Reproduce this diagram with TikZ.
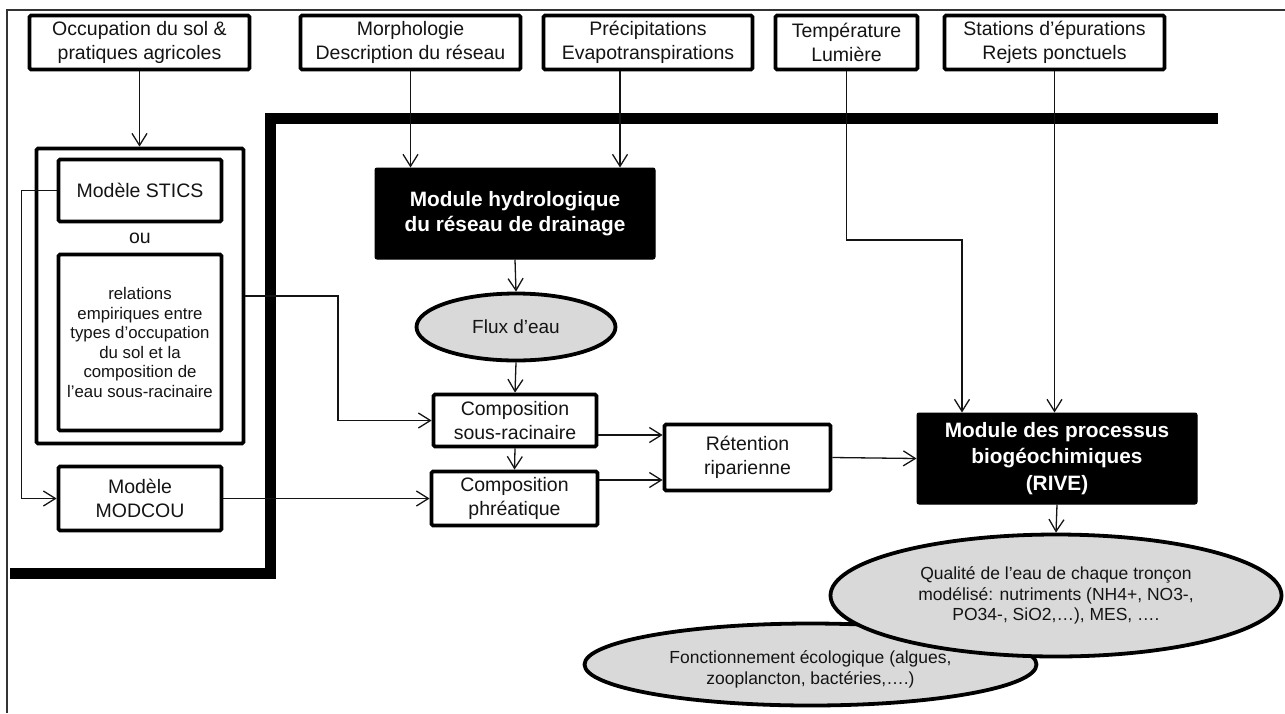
\documentclass[tikz,border=0pt]{standalone}
\usepackage{fontspec}
\setmainfont{Liberation Sans}
\usetikzlibrary{shapes.geometric,arrows.meta}
\definecolor{lgray}{RGB}{217,217,217}
\definecolor{txt}{RGB}{20,20,20}
\begin{document}
\begin{tikzpicture}[x=1pt,y=-1pt,
  box/.style={draw=black, line width=3.8pt, rounded corners=1.5pt, fill=white, inner sep=0pt, align=center, text=txt, font=\fontsize{19.5}{23.5}\selectfont},
  dark/.style={draw=black, fill=black, line width=1pt, rounded corners=2pt, inner sep=0pt, align=center, text=white, font=\fontsize{20.8}{25}\selectfont\bfseries},
  oval/.style={ellipse, draw=black, line width=3.8pt, fill=lgray, inner sep=0pt, align=center, text=txt},
  arr/.style={line width=1.3pt, draw=txt, -{Straight Barb[length=12pt,width=15pt,line width=1.3pt]}},
  plain/.style={text=txt, font=\fontsize{19.5}{23.5}\selectfont}
]
\useasboundingbox (0,0) rectangle (1285,713);
% page frame
\draw[line width=2pt, black!80] (7,713) -- (7,9.5) -- (1285,9.5);
% thick L-shaped separator
\draw[line width=11pt, line join=miter] (10,573) -- (270,573) -- (270,118.5) -- (1218,118.5);

% top inputs
\node[box, minimum width=220pt, minimum height=54pt] (occ) at (139.5,42.5) {Occupation du sol \&\\pratiques agricoles};
\node[box, minimum width=220pt, minimum height=54pt] (morph) at (410.5,42.5) {Morphologie\\Description du réseau};
\node[box, minimum width=209pt, minimum height=54pt] (precip) at (648,42.5) {Précipitations\\Evapotranspirations};
\node[box, minimum width=142pt, minimum height=54pt] (temp) at (846.5,42.5) {Température\\Lumière};
\node[box, minimum width=220pt, minimum height=54pt] (stat) at (1054.5,42.5) {Stations d’épurations\\Rejets ponctuels};

% left column
\node[box, minimum width=207pt, minimum height=295pt] (cont) at (140,296) {};
\node[box, minimum width=163pt, minimum height=62pt] (stics) at (140,190.5) {Modèle STICS};
\node[plain] (ou) at (140,238) {ou};
\node[box, minimum width=163pt, minimum height=176pt, font=\fontsize{16.8}{19.5}\selectfont] (rel) at (140,342.5) {relations\\empiriques entre\\types d’occupation\\du sol et la\\composition de\\l’eau sous-racinaire};
\node[box, minimum width=163pt, minimum height=64pt] (modcou) at (140,498.5) {Modèle\\MODCOU};

% central column
\node[dark, minimum width=280pt, minimum height=91pt] (hydro) at (515,213.5) {Module hydrologique\\du réseau de drainage};
\node[oval, minimum width=199pt, minimum height=67pt, font=\fontsize{19}{23}\selectfont] (flux) at (516,327) {Flux d’eau};
\node[box, minimum width=163pt, minimum height=52pt] (sousr) at (515,420.5) {Composition\\sous-racinaire};
\node[box, minimum width=166pt, minimum height=54pt] (phrea) at (514.5,498.5) {Composition\\phréatique};
\node[box, minimum width=166pt, minimum height=66pt] (ret) at (747.5,457.5) {Rétention\\riparienne};
\node[dark, minimum width=280pt, minimum height=91pt, font=\fontsize{20.8}{26.5}\selectfont\bfseries] (rive) at (1057,458.5) {Module des processus\\biogéochimiques\\(RIVE)};

% outputs
\node[oval, minimum width=452pt, minimum height=82pt, font=\fontsize{17.5}{21}\selectfont] (fonc) at (810.5,664.5) {\raisebox{-5pt}[\height][\depth]{\begin{tabular}{@{}c@{}}Fonctionnement écologique (algues,\\zooplancton, bactéries,….)\end{tabular}}};
\node[oval, minimum width=451pt, minimum height=122pt, font=\fontsize{17.5}{20.5}\selectfont] (qual) at (1056,595.5) {Qualité de l’eau de chaque tronçon\\modélisé: nutriments (NH4+, NO3-,\\PO34-, SiO2,…), MES, ….};

% bends
\coordinate (tbend) at (962,240);
\coordinate (rbend) at (338,350);

% connectors
\draw[arr] (occ.south) -- (occ.south |- cont.north);
\draw[arr] (morph.south) -- (morph.south |- hydro.north);
\draw[arr] ([xshift=-28pt]precip.south) -- ([xshift=105pt]hydro.north);
\draw[arr] (hydro.south) -- (flux.north);
\draw[arr] (flux.south) -- (sousr.north);
\draw[arr] (sousr.south) -- (phrea.north);
\draw[arr] ([yshift=-14.5pt]sousr.east) -- ([yshift=22.5pt]ret.west);
\draw[arr] ([yshift=18.5pt]phrea.east) -- ([yshift=-22.5pt]ret.west);
\draw[arr] (ret.east) -- (rive.west);
\draw[arr] (rive.south) -- (qual.north);
\draw[arr] (temp.south) |- (tbend) -- (tbend |- rive.north);
\draw[arr] (stat.south) -- (stat.south |- rive.north);
\draw[arr] (stics.west) -- ++(-35,0) |- (modcou.west);
\draw[arr] (cont.east) -| (rbend) |- (sousr.west);
\draw[arr] (modcou.east) -- (phrea.west);
\end{tikzpicture}
\end{document}
